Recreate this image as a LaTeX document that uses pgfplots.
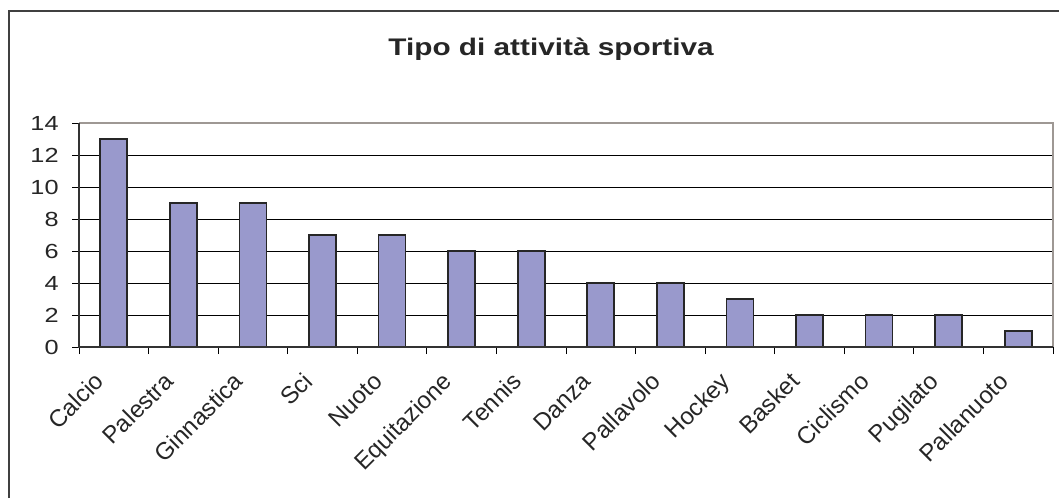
\documentclass[border=0pt]{standalone}
\usepackage{pgfplots}
\pgfplotsset{compat=1.18}
\usepackage{fontspec}
\usepackage{graphicx}
\setmainfont{Liberation Sans}[FakeStretch=1.24]
\newfontfamily\lblfont{Liberation Sans}
\newcommand\rl[1]{\rotatebox{45}{\lblfont\fontsize{12}{14.4}\selectfont\strut #1}}
\definecolor{barfill}{HTML}{9999CC}
\definecolor{txt}{HTML}{262626}
\definecolor{frame}{HTML}{9E9894}
\begin{document}
\begin{tikzpicture}
\path[use as bounding box] (0pt,0pt) rectangle (529.5pt,249pt);
\draw[line width=1pt, color=black!75] (4.5pt,0pt) -- (4.5pt,243.5pt) -- (529.5pt,243.5pt);
\node[anchor=base, font=\fontsize{12}{14}\selectfont\bfseries, text=txt] at (275.5pt,221pt) {Tipo di attività sportiva};
\begin{axis}[
  at={(39.5pt,75.5pt)}, anchor=south west,
  scale only axis, width=487pt, height=112pt,
  xmin=-0.5, xmax=13.5, ymin=0, ymax=14,
  ytick={0,2,...,14},
  xtick={0,...,13},
  xticklabels={\rl{Calcio},\rl{Palestra},\rl{Ginnastica},\rl{Sci},\rl{Nuoto},\rl{Equitazione},\rl{Tennis},\rl{Danza},\rl{Pallavolo},\rl{Hockey},\rl{Basket},\rl{Ciclismo},\rl{Pugilato},\rl{Pallanuoto}},
  minor xtick={-0.5,0.5,...,13.5},
  major x tick style={draw=none},
  tick align=outside, xtick pos=bottom, ytick pos=left,
  major tick length=3.5pt, minor tick length=3.5pt,
  every tick/.style={black, line width=0.5pt},
  ymajorgrids, grid style={black, line width=0.5pt},
  axis line style={draw=none},
  ticklabel style={font=\fontsize{10.2}{12}\selectfont, text=txt},
  yticklabel style={anchor=east, inner sep=0pt, xshift=-6.5pt},
  xticklabel style={inner sep=0pt, anchor=north east, xshift=-1pt, yshift=-7.3pt},
  /pgf/number format/assume math mode=true,
  clip=false,
]
\addplot[ybar, bar width=13.5pt, fill=barfill, draw=black!85, line width=0.8pt] coordinates {
(0,13) (1,9) (2,9) (3,7) (4,7) (5,6) (6,6) (7,4) (8,4) (9,3) (10,2) (11,2) (12,2) (13,1)
};
\draw[frame, line width=0.8pt] (rel axis cs:0,1) -- (rel axis cs:1,1) -- (rel axis cs:1,0);
\draw[black!80, line width=0.8pt] (rel axis cs:0,1) -- (rel axis cs:0,0) -- (rel axis cs:1,0);
\end{axis}
\end{tikzpicture}
\end{document}
